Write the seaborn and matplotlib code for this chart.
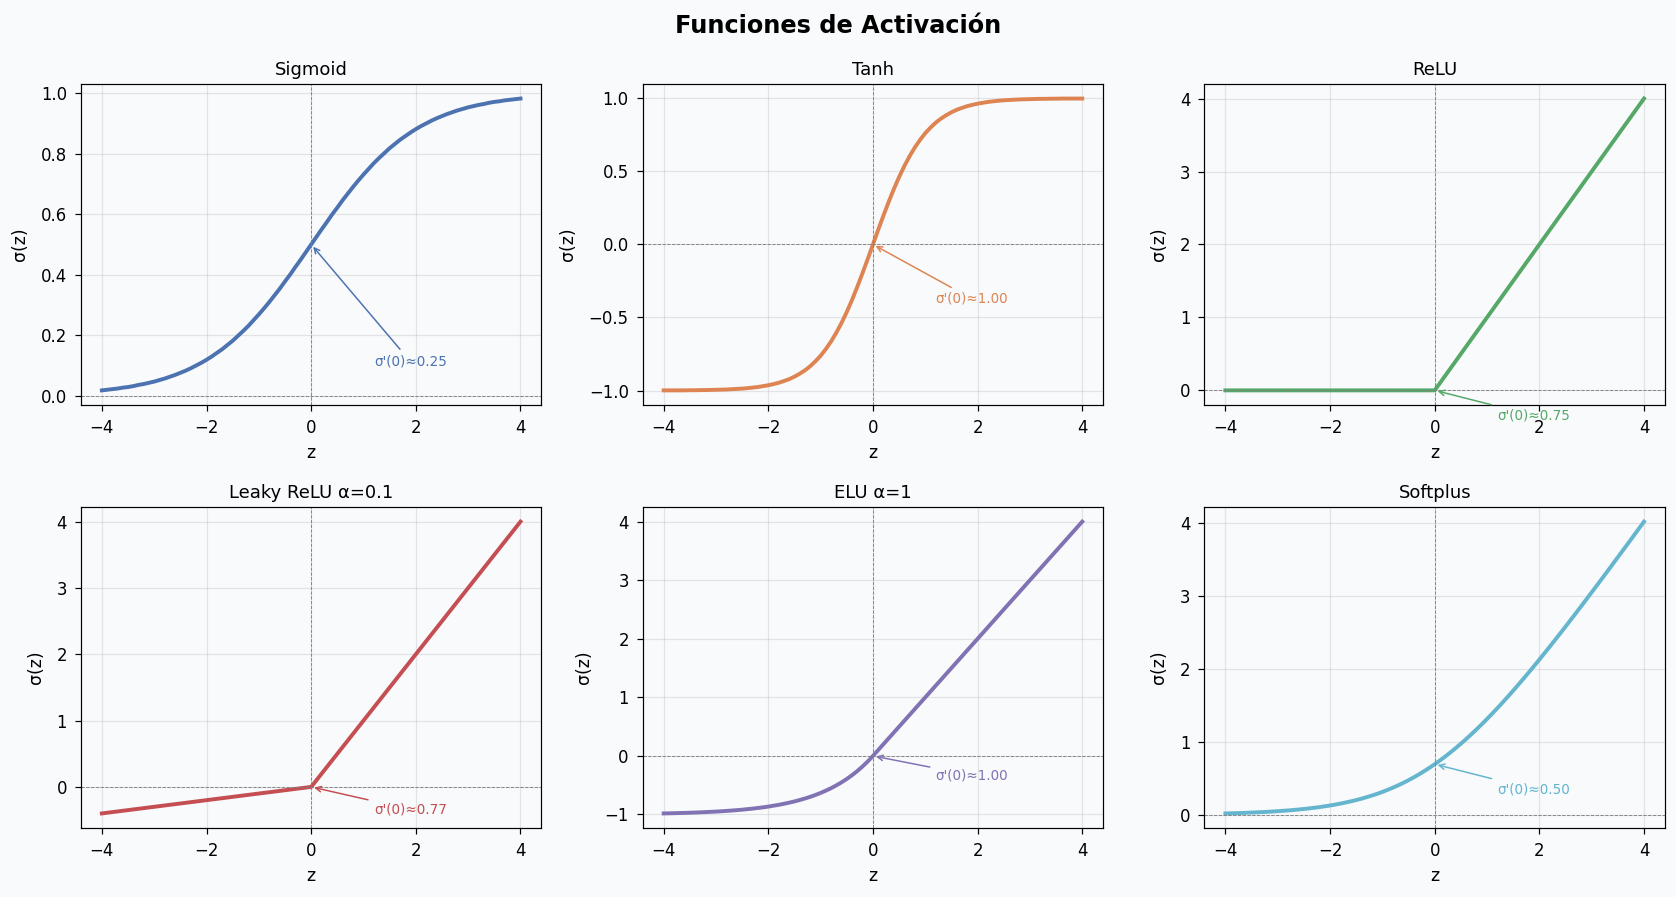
import matplotlib
matplotlib.use('Agg')
import matplotlib.pyplot as plt
import seaborn as sns

# sample points along z, step 0.1
z = [-4.0, -3.9, -3.8, -3.7, -3.6, -3.5, -3.4, -3.3, -3.2, -3.1,
     -3.0, -2.9, -2.8, -2.7, -2.6, -2.5, -2.4, -2.3, -2.2, -2.1,
     -2.0, -1.9, -1.8, -1.7, -1.6, -1.5, -1.4, -1.3, -1.2, -1.1,
     -1.0, -0.9, -0.8, -0.7, -0.6, -0.5, -0.4, -0.3, -0.2, -0.1,
     0.0, 0.1, 0.2, 0.3, 0.4, 0.5, 0.6, 0.7, 0.8, 0.9,
     1.0, 1.1, 1.2, 1.3, 1.4, 1.5, 1.6, 1.7, 1.8, 1.9,
     2.0, 2.1, 2.2, 2.3, 2.4, 2.5, 2.6, 2.7, 2.8, 2.9,
     3.0, 3.1, 3.2, 3.3, 3.4, 3.5, 3.6, 3.7, 3.8, 3.9, 4.0]

sigmoid = [0.018, 0.020, 0.022, 0.024, 0.027, 0.029, 0.032, 0.036, 0.039, 0.043,
           0.047, 0.052, 0.057, 0.063, 0.069, 0.076, 0.083, 0.091, 0.100, 0.109,
           0.119, 0.130, 0.142, 0.154, 0.168, 0.182, 0.198, 0.214, 0.231, 0.250,
           0.269, 0.289, 0.310, 0.332, 0.354, 0.378, 0.401, 0.426, 0.450, 0.475,
           0.500, 0.525, 0.550, 0.574, 0.599, 0.622, 0.646, 0.668, 0.690, 0.711,
           0.731, 0.750, 0.769, 0.786, 0.802, 0.818, 0.832, 0.846, 0.858, 0.870,
           0.881, 0.891, 0.900, 0.909, 0.917, 0.924, 0.931, 0.937, 0.943, 0.948,
           0.953, 0.957, 0.961, 0.964, 0.968, 0.971, 0.973, 0.976, 0.978, 0.980, 0.982]

tanh = [-0.999, -0.999, -0.999, -0.999, -0.999, -0.998, -0.998, -0.997, -0.997, -0.996,
        -0.995, -0.994, -0.993, -0.991, -0.989, -0.987, -0.984, -0.980, -0.976, -0.970,
        -0.964, -0.956, -0.947, -0.935, -0.922, -0.905, -0.885, -0.862, -0.834, -0.800,
        -0.762, -0.716, -0.664, -0.604, -0.537, -0.462, -0.380, -0.291, -0.197, -0.100,
        0.000, 0.100, 0.197, 0.291, 0.380, 0.462, 0.537, 0.604, 0.664, 0.716,
        0.762, 0.800, 0.834, 0.862, 0.885, 0.905, 0.922, 0.935, 0.947, 0.956,
        0.964, 0.970, 0.976, 0.980, 0.984, 0.987, 0.989, 0.991, 0.993, 0.994,
        0.995, 0.996, 0.997, 0.997, 0.998, 0.998, 0.999, 0.999, 0.999, 0.999, 0.999]

elu = [-0.982, -0.980, -0.978, -0.975, -0.973, -0.970, -0.967, -0.963, -0.959, -0.955,
       -0.950, -0.945, -0.939, -0.933, -0.926, -0.918, -0.909, -0.900, -0.889, -0.878,
       -0.865, -0.850, -0.835, -0.817, -0.798, -0.777, -0.753, -0.727, -0.699, -0.667,
       -0.632, -0.593, -0.551, -0.503, -0.451, -0.393, -0.330, -0.259, -0.181, -0.095,
       0.0, 0.1, 0.2, 0.3, 0.4, 0.5, 0.6, 0.7, 0.8, 0.9,
       1.0, 1.1, 1.2, 1.3, 1.4, 1.5, 1.6, 1.7, 1.8, 1.9,
       2.0, 2.1, 2.2, 2.3, 2.4, 2.5, 2.6, 2.7, 2.8, 2.9,
       3.0, 3.1, 3.2, 3.3, 3.4, 3.5, 3.6, 3.7, 3.8, 3.9, 4.0]

softplus = [0.018, 0.020, 0.022, 0.024, 0.027, 0.030, 0.033, 0.036, 0.040, 0.044,
            0.049, 0.054, 0.059, 0.065, 0.072, 0.079, 0.087, 0.096, 0.105, 0.116,
            0.127, 0.139, 0.153, 0.168, 0.184, 0.201, 0.220, 0.241, 0.263, 0.287,
            0.313, 0.341, 0.371, 0.403, 0.437, 0.474, 0.513, 0.554, 0.598, 0.644,
            0.693, 0.744, 0.798, 0.854, 0.913, 0.974, 1.037, 1.103, 1.171, 1.241,
            1.313, 1.387, 1.463, 1.541, 1.620, 1.701, 1.784, 1.868, 1.953, 2.039,
            2.127, 2.216, 2.305, 2.396, 2.487, 2.579, 2.672, 2.765, 2.859, 2.954,
            3.049, 3.144, 3.240, 3.336, 3.433, 3.530, 3.627, 3.724, 3.822, 3.920, 4.018]

# piecewise-linear ones only need their corner points
z_knots = [-4.0, 0.0, 4.0]
relu = [0.0, 0.0, 4.0]
leaky = [-0.4, 0.0, 4.0]

titles = ['Sigmoid', 'Tanh', 'ReLU', 'Leaky ReLU α=0.1', 'ELU α=1', 'Softplus']
xs = [z, z, z_knots, z_knots, z, z]
series = [sigmoid, tanh, relu, leaky, elu, softplus]
y_at_zero = [0.5, 0.0, 0.0, 0.0, 0.0, 0.693]
deriv_labels = ["σ'(0)≈0.25", "σ'(0)≈1.00", "σ'(0)≈0.75",
                "σ'(0)≈0.77", "σ'(0)≈1.00", "σ'(0)≈0.50"]
x_ticks = [-4, -2, 0, 2, 4]
y_ticks = [[0.0, 0.2, 0.4, 0.6, 0.8, 1.0],
           [-1.0, -0.5, 0.0, 0.5, 1.0],
           [0, 1, 2, 3, 4],
           [0, 1, 2, 3, 4],
           [-1, 0, 1, 2, 3, 4],
           [0, 1, 2, 3, 4]]

colors = sns.color_palette('deep', 10)
palette = [colors[0], colors[1], colors[2], colors[3], colors[4], colors[9]]

bg = '#f8fafc'
fig, axes = plt.subplots(2, 3, figsize=(1676 / 108, 897 / 108), dpi=108)
fig.patch.set_facecolor(bg)
fig.subplots_adjust(left=0.0483, right=0.9934, top=0.9064, bottom=0.0769,
                    wspace=0.22, hspace=0.318)

for i, ax in enumerate(axes.flat):
    col = palette[i]
    ax.set_facecolor(bg)
    sns.lineplot(x=xs[i], y=series[i], ax=ax, color=col, lw=2.6)
    ax.axhline(0, color='gray', ls='--', lw=0.6)
    ax.axvline(0, color='gray', ls='--', lw=0.6)
    ax.grid(True, alpha=0.3)
    ax.set_xticks(x_ticks)
    ax.set_yticks(y_ticks[i])
    ax.tick_params(labelsize=11, pad=5.5, length=3.8)
    ax.set_title(titles[i], fontsize=12)
    ax.set_xlabel('z', fontsize=11.5, labelpad=5)
    ax.set_ylabel('σ(z)', fontsize=11.5, labelpad=8)
    ax.annotate(deriv_labels[i], xy=(0, y_at_zero[i]), xytext=(1.2, y_at_zero[i] - 0.4),
                fontsize=9, color=col,
                arrowprops=dict(arrowstyle='->', color=col, lw=1))

fig.suptitle('Funciones de Activación', fontsize=16, fontweight='bold', y=0.971,
             va='center')

plt.savefig('out.png', dpi=108, facecolor=bg)
